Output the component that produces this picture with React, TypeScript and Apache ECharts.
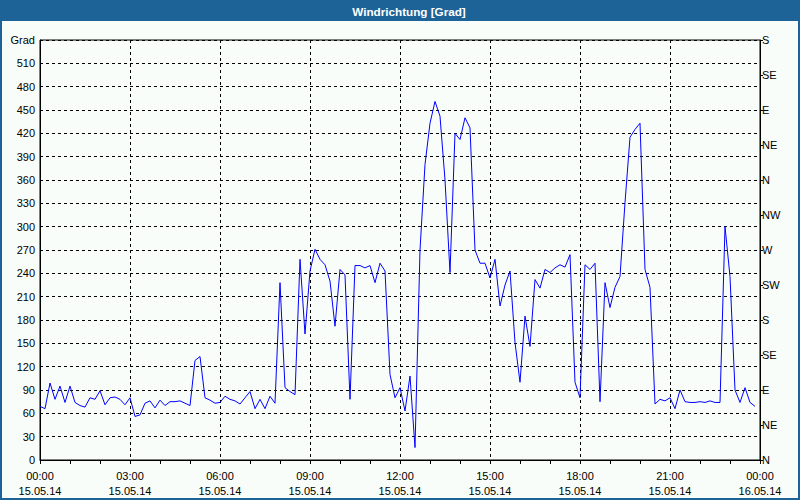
import React, { useEffect, useRef } from "react";
import * as echarts from "echarts";

// 10-minute samples starting 15.05.14 00:00
const windDirection: number[] = [
  69, 66, 99, 78, 95, 74, 95, 74, 70, 68,
  80, 78, 89, 71, 80, 81, 78, 71, 80, 56,
  58, 73, 76, 67, 77, 70, 75, 75, 76, 73,
  70, 128, 133, 80, 77, 73, 74, 82, 78, 76,
  72, 80, 88, 66, 78, 66, 82, 73, 228, 93,
  88, 84, 258, 162, 243, 271, 258, 251, 230, 172,
  245, 238, 78, 250, 250, 247, 250, 228, 253, 243,
  110, 80, 93, 63, 108, 16, 270, 380, 433, 461,
  442, 360, 241, 420, 412, 440, 427, 270, 253, 253,
  234, 258, 198, 225, 243, 151, 100, 185, 146, 232,
  221, 245, 241, 247, 251, 248, 264, 100, 80, 251,
  245, 253, 75, 228, 196, 222, 236, 331, 415, 425,
  433, 245, 222, 72, 78, 76, 80, 66, 90, 75,
  74, 74, 75, 74, 76, 74, 74, 300, 236, 90,
  74, 93, 74, 69,
];
const stepMinutes = 10;
const compassLabels: string[] = ["N", "NE", "E", "SE", "S", "SW", "W", "NW", "N", "NE", "E", "SE", "S"];
const startDate = "15.05.14";
const endDate = "16.05.14";
const titleText = "Windrichtung [Grad]";
const unitLabel = "Grad";

const FONT = "Liberation Sans";
const BLUE = "#1d6397";

export default function App() {
  const ref = useRef<HTMLDivElement>(null);
  useEffect(() => {
    if (!ref.current) return;
    const chart = echarts.init(ref.current, null, { renderer: "svg" });
    const data = windDirection.map((v, i) => [i * stepMinutes, v]);
    chart.setOption({
      animation: false,
      backgroundColor: "#f9fdf9",
      graphic: [
        { type: "rect", shape: { x: 0, y: 0, width: 800, height: 21 }, style: { fill: BLUE }, silent: true },
        { type: "rect", shape: { x: 1, y: 1, width: 798, height: 498 }, style: { fill: "none", stroke: BLUE, lineWidth: 2 }, silent: true },
        {
          type: "text",
          x: 409,
          y: 11,
          style: { text: titleText, fill: "#fff", font: `bold 11.7px "${FONT}"`, textAlign: "center", textVerticalAlign: "middle" },
        },
      ],
      grid: { left: 40, right: 40, top: 40, bottom: 40, show: true, borderColor: "#000", borderWidth: 1, backgroundColor: "transparent" },
      xAxis: {
        type: "value",
        min: 0,
        max: 1440,
        interval: 180,
        axisLine: { show: true, lineStyle: { color: "#000", width: 1 } },
        axisTick: { show: true, length: 4, lineStyle: { color: "#000" } },
        minorTick: { show: true, splitNumber: 3, length: 4, lineStyle: { color: "#000" } },
        splitLine: { show: true, lineStyle: { color: "#000", type: [3, 3], width: 1 } },
        axisLabel: {
          show: true,
          showMinLabel: true,
          showMaxLabel: true,
          margin: 8,
          color: "#000",
          fontFamily: FONT,
          fontSize: 11,
          lineHeight: 15,
          formatter: (v: number) => {
            const h = Math.round(v / 60) % 24;
            const hh = (h < 10 ? "0" : "") + h + ":00";
            return hh + "\n" + (v >= 1440 ? endDate : startDate);
          },
        },
      },
      yAxis: [
        {
          type: "value",
          min: 0,
          max: 540,
          interval: 30,
          position: "left",
          axisLine: { show: true, lineStyle: { color: "#000" } },
          axisTick: { show: false },
          splitLine: { show: true, lineStyle: { color: "#000", type: [3, 3], width: 1 } },
          axisLabel: {
            margin: 5,
            color: "#000",
            fontFamily: FONT,
            fontSize: 11,
            showMaxLabel: true,
            formatter: (v: number) => (v === 540 ? unitLabel : String(v)),
          },
        },
        {
          type: "value",
          min: 0,
          max: 540,
          interval: 45,
          position: "right",
          axisLine: { show: true, onZero: false, lineStyle: { color: "#000" } },
          axisTick: { show: true, length: 3, lineStyle: { color: "#000" } },
          splitLine: { show: false },
          axisLabel: {
            margin: 2,
            color: "#000",
            fontFamily: FONT,
            fontSize: 11,
            showMaxLabel: true,
            showMinLabel: true,
            formatter: (v: number) => compassLabels[Math.round(v / 45)] ?? "",
          },
        },
      ],
      series: [
        {
          type: "line",
          data,
          yAxisIndex: 0,
          showSymbol: false,
          symbol: "none",
          lineStyle: { color: "#0000ff", width: 1 },
          silent: true,
        },
      ],
    });
    return () => chart.dispose();
  }, []);
  return <div ref={ref} style={{ position: "absolute", left: 0, top: 0, width: 800, height: 500 }} />;
}
